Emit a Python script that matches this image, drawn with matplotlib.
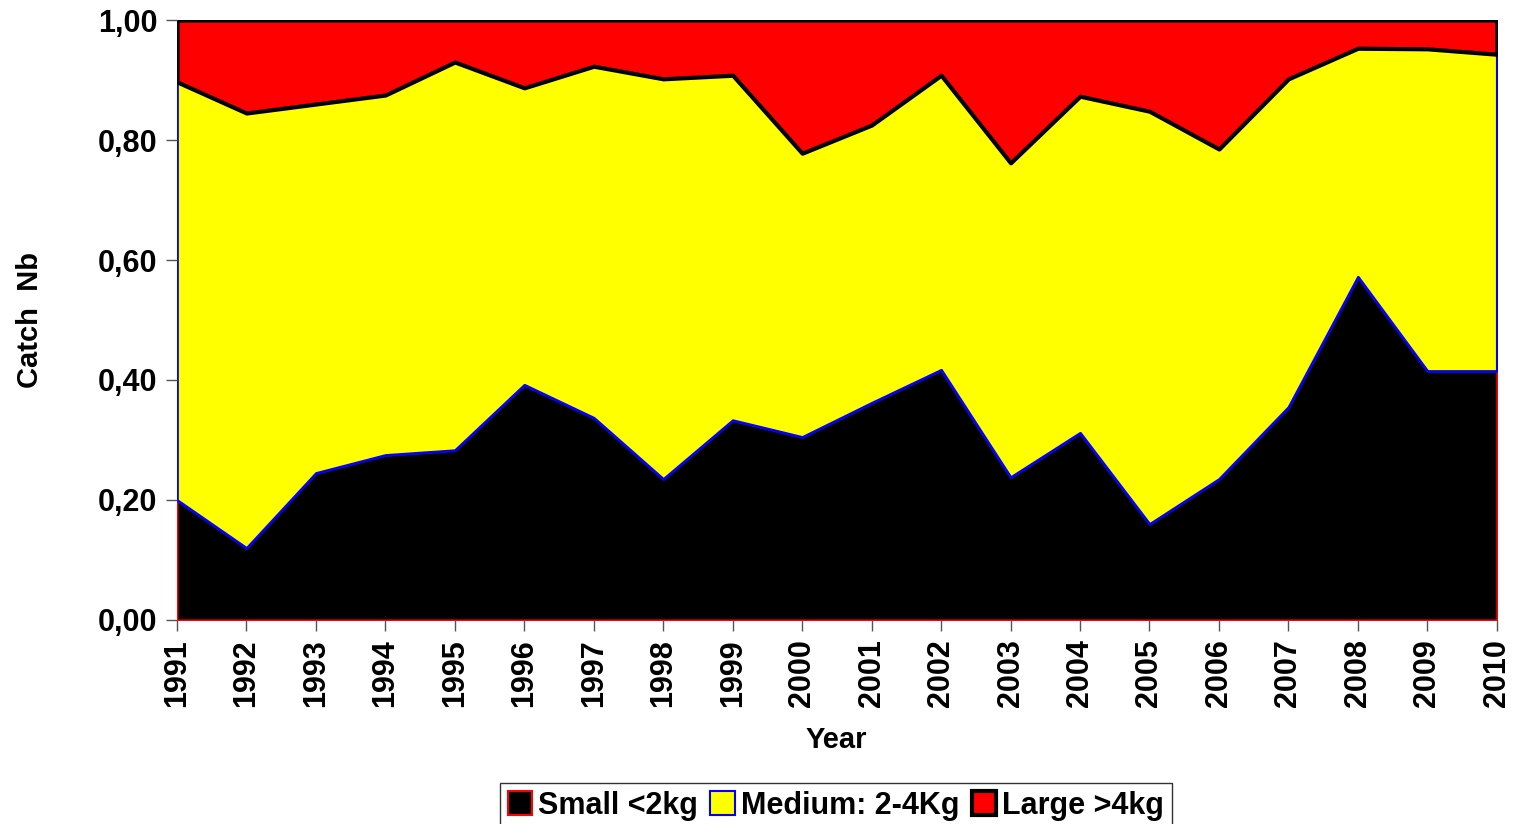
import numpy as np
import matplotlib.pyplot as plt
from matplotlib.patches import Patch

years = np.arange(1991, 2011)
small = [0.200, 0.120, 0.245, 0.275, 0.283, 0.392, 0.337, 0.235, 0.333, 0.305,
         0.362, 0.417, 0.238, 0.312, 0.160, 0.235, 0.355, 0.572, 0.415, 0.415]
small_medium = [0.897, 0.845, 0.860, 0.875, 0.930, 0.887, 0.923, 0.902, 0.908, 0.778,
                0.825, 0.908, 0.762, 0.873, 0.848, 0.785, 0.902, 0.953, 0.952, 0.943]
labels = ["Small <2kg", "Medium: 2-4Kg", "Large >4kg"]

small = np.array(small)
medium = np.array(small_medium) - small
large = 1.0 - np.array(small_medium)

plt.rcParams['font.family'] = ['Liberation Sans', 'DejaVu Sans']
plt.rcParams['font.weight'] = 'bold'

fig = plt.figure(figsize=(15.15, 8.24), dpi=100)
ax = fig.add_axes([0.1168, 0.2476, 0.988 - 0.1168, 0.9757 - 0.2476])

faces = ["black", "yellow", "red"]
edges = ["red", "blue", "black"]
widths = [1.5, 2.0, 3.0]
polys = ax.stackplot(years, small, medium, large, colors=faces)
for p, ec, lw in zip(polys, edges, widths):
    p.set_edgecolor(ec)
    p.set_linewidth(lw)

ax.set_xlim(1991, 2010)
ax.set_ylim(0, 1.0)
for s in ax.spines.values():
    s.set_visible(False)

ax.set_yticks(np.arange(0, 1.01, 0.2))
ax.set_yticklabels([f"{v:.2f}".replace(".", ",") for v in np.arange(0, 1.01, 0.2)])
ax.set_xticks(years)
ax.set_xticklabels([str(y) for y in years], rotation=90)
ax.tick_params(axis='both', labelsize=22, length=8, width=1, color='#555555', direction='out')
ax.tick_params(axis='y', pad=6)
ax.tick_params(axis='x', pad=6)

fig.text(30 / 1515, 1 - 320 / 824, "Catch  Nb", fontsize=21, fontweight='bold',
         rotation=90, ha='center', va='center')
fig.text(836 / 1515, 1 - 740 / 824, "Year", fontsize=21, fontweight='bold',
         ha='center', va='center')

handles = [Patch(facecolor=f, edgecolor=e, linewidth=lw) for f, e, lw in zip(faces, edges, [1.5, 1.5, 3.0])]
leg = fig.legend(handles, labels, loc='upper center', bbox_to_anchor=(836 / 1515, 1 - 783 / 824),
                 ncol=3, fontsize=22, frameon=True, fancybox=False, handlelength=0.8,
                 handleheight=0.8, handletextpad=0.2, columnspacing=0.4, borderpad=0.25,
                 borderaxespad=0)
leg.get_frame().set_edgecolor('black')
leg.get_frame().set_linewidth(1)

fig.savefig("out.png", dpi=100)
